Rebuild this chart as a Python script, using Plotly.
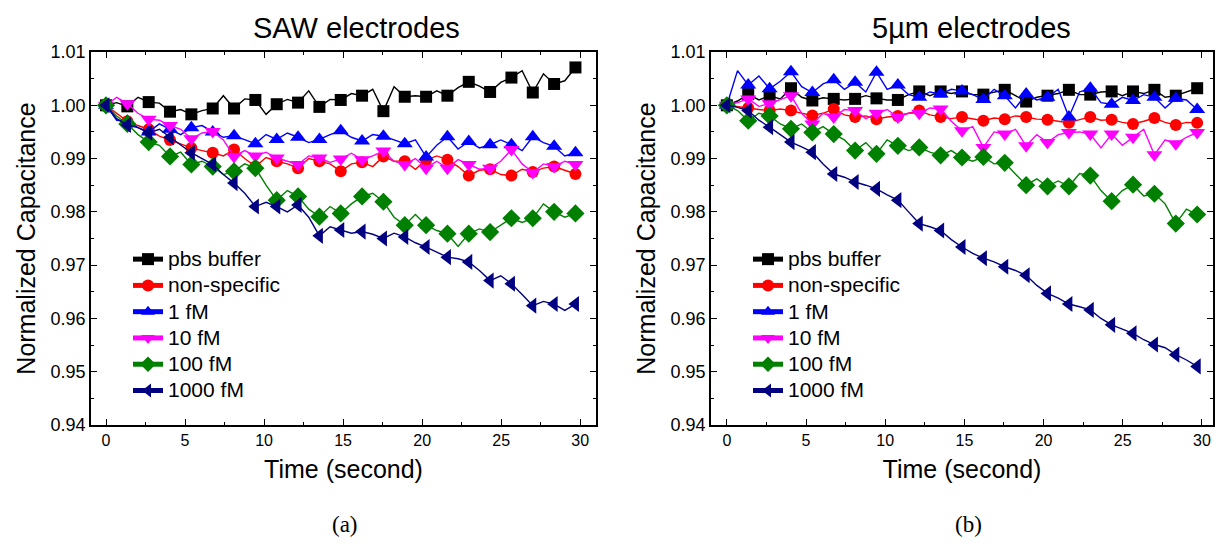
import plotly.graph_objects as go

# time base (s): samples every 0.675 s, markers on every other sample
time_s = [round(i * 0.675, 3) for i in range(45)]

series_names = ["pbs buffer", "non-specific", "1 fM", "10 fM", "100 fM", "1000 fM"]

# ---- (a) SAW electrodes ----
saw_pbs = [1.0000, 1.0005, 0.9998, 1.0015, 1.0006, 1.0004, 0.9988, 0.9992, 0.9983, 0.9990,
           0.9994, 1.0018, 0.9994, 1.0012, 1.0010, 0.9983, 1.0002, 1.0011, 1.0005, 1.0027,
           0.9997, 1.0011, 1.0010, 1.0022, 1.0018, 1.0030, 0.9989, 1.0035, 1.0016, 1.0018,
           1.0016, 1.0027, 1.0018, 1.0033, 1.0044, 1.0036, 1.0025, 1.0043, 1.0052, 1.0065,
           1.0024, 1.0059, 1.0040, 1.0046, 1.0071]
saw_nonspec = [1.0000, 0.9985, 0.9970, 0.9962, 0.9955, 0.9942, 0.9935, 0.9928, 0.9920, 0.9915,
               0.9911, 0.9905, 0.9917, 0.9900, 0.9885, 0.9902, 0.9895, 0.9890, 0.9882, 0.9900,
               0.9895, 0.9890, 0.9876, 0.9890, 0.9893, 0.9885, 0.9904, 0.9895, 0.9895, 0.9880,
               0.9897, 0.9905, 0.9898, 0.9885, 0.9868, 0.9878, 0.9880, 0.9870, 0.9868, 0.9880,
               0.9875, 0.9882, 0.9885, 0.9878, 0.9871]
saw_1fm = [1.0000, 0.9972, 0.9970, 0.9958, 0.9950, 0.9965, 0.9955, 0.9945, 0.9958, 0.9962,
           0.9950, 0.9940, 0.9943, 0.9935, 0.9928, 0.9945, 0.9936, 0.9948, 0.9940, 0.9930,
           0.9936, 0.9945, 0.9952, 0.9940, 0.9933, 0.9945, 0.9942, 0.9935, 0.9928, 0.9935,
           0.9903, 0.9925, 0.9941, 0.9918, 0.9932, 0.9920, 0.9926, 0.9935, 0.9926, 0.9915,
           0.9941, 0.9930, 0.9923, 0.9905, 0.9911]
saw_10fm = [1.0000, 1.0015, 1.0003, 0.9985, 0.9974, 0.9972, 0.9962, 0.9955, 0.9937, 0.9948,
            0.9951, 0.9935, 0.9904, 0.9915, 0.9905, 0.9912, 0.9901, 0.9895, 0.9889, 0.9905,
            0.9901, 0.9893, 0.9899, 0.9910, 0.9898, 0.9905, 0.9914, 0.9895, 0.9889, 0.9900,
            0.9882, 0.9895, 0.9882, 0.9898, 0.9889, 0.9880, 0.9882, 0.9895, 0.9917, 0.9890,
            0.9874, 0.9890, 0.9885, 0.9895, 0.9889]
saw_100fm = [1.0000, 0.9980, 0.9965, 0.9945, 0.9931, 0.9925, 0.9904, 0.9912, 0.9889, 0.9895,
             0.9885, 0.9870, 0.9876, 0.9890, 0.9882, 0.9850, 0.9822, 0.9840, 0.9829, 0.9805,
             0.9791, 0.9810, 0.9797, 0.9815, 0.9829, 0.9835, 0.9819, 0.9790, 0.9775, 0.9795,
             0.9775, 0.9765, 0.9759, 0.9735, 0.9759, 0.9768, 0.9762, 0.9775, 0.9788, 0.9780,
             0.9788, 0.9815, 0.9800, 0.9790, 0.9797]
saw_1000fm = [1.0000, 0.9975, 0.9963, 0.9958, 0.9948, 0.9955, 0.9940, 0.9925, 0.9911, 0.9900,
              0.9889, 0.9870, 0.9854, 0.9835, 0.9810, 0.9818, 0.9810, 0.9800, 0.9813, 0.9790,
              0.9755, 0.9772, 0.9766, 0.9760, 0.9763, 0.9758, 0.9750, 0.9760, 0.9753, 0.9742,
              0.9734, 0.9725, 0.9715, 0.9712, 0.9706, 0.9690, 0.9671, 0.9680, 0.9665, 0.9645,
              0.9624, 0.9632, 0.9627, 0.9615, 0.9627]

# ---- (b) 5 um electrodes ----
um5_pbs = [1.0000, 1.0008, 1.0021, 1.0010, 1.0018, 1.0012, 1.0032, 1.0015, 1.0009, 1.0014,
           1.0012, 1.0010, 1.0012, 1.0018, 1.0013, 1.0010, 1.0010, 1.0020, 1.0026, 1.0018,
           1.0026, 1.0022, 1.0026, 1.0020, 1.0020, 1.0025, 1.0029, 1.0018, 1.0007, 1.0015,
           1.0018, 1.0022, 1.0029, 1.0020, 1.0020, 1.0025, 1.0026, 1.0018, 1.0026, 1.0022,
           1.0029, 1.0015, 1.0018, 1.0025, 1.0032]
um5_nonspec = [1.0000, 0.9998, 0.9995, 0.9992, 0.9990, 0.9993, 0.9990, 0.9985, 0.9981, 0.9985,
               0.9993, 0.9982, 0.9978, 0.9980, 0.9974, 0.9978, 0.9980, 0.9985, 0.9990, 0.9982,
               0.9978, 0.9975, 0.9978, 0.9974, 0.9971, 0.9976, 0.9974, 0.9980, 0.9978, 0.9974,
               0.9973, 0.9970, 0.9967, 0.9973, 0.9978, 0.9972, 0.9973, 0.9968, 0.9965, 0.9970,
               0.9976, 0.9968, 0.9963, 0.9968, 0.9967]
um5_1fm = [1.0000, 1.0065, 1.0038, 1.0055, 1.0031, 1.0045, 1.0063, 1.0035, 1.0024, 1.0040,
           1.0048, 1.0030, 1.0043, 1.0025, 1.0062, 1.0030, 1.0038, 1.0020, 1.0015, 1.0025,
           1.0021, 1.0030, 1.0027, 1.0020, 1.0011, 1.0030, 1.0018, 0.9995, 1.0021, 1.0010,
           1.0015, 1.0030, 0.9978, 1.0025, 1.0032, 1.0005, 1.0002, 1.0015, 1.0009, 1.0020,
           1.0015, 0.9995, 1.0013, 1.0010, 0.9992]
um5_10fm = [1.0000, 1.0005, 1.0012, 0.9998, 1.0003, 1.0010, 1.0018, 0.9985, 0.9965, 0.9985,
            0.9978, 0.9992, 0.9990, 0.9975, 0.9985, 0.9992, 0.9978, 0.9985, 0.9985, 0.9995,
            0.9993, 0.9970, 0.9952, 0.9960, 0.9921, 0.9950, 0.9946, 0.9955, 0.9924, 0.9945,
            0.9930, 0.9945, 0.9949, 0.9950, 0.9946, 0.9920, 0.9946, 0.9925, 0.9940, 0.9955,
            0.9907, 0.9935, 0.9928, 0.9940, 0.9949]
um5_100fm = [1.0000, 0.9990, 0.9971, 0.9985, 0.9980, 0.9965, 0.9956, 0.9965, 0.9949, 0.9960,
             0.9946, 0.9935, 0.9915, 0.9930, 0.9909, 0.9935, 0.9924, 0.9915, 0.9921, 0.9912,
             0.9906, 0.9915, 0.9902, 0.9895, 0.9903, 0.9890, 0.9892, 0.9870, 0.9850, 0.9862,
             0.9848, 0.9858, 0.9848, 0.9872, 0.9868, 0.9840, 0.9820, 0.9840, 0.9851, 0.9830,
             0.9834, 0.9815, 0.9778, 0.9805, 0.9795]
um5_1000fm = [1.0000, 0.9996, 0.9990, 0.9972, 0.9959, 0.9945, 0.9931, 0.9922, 0.9912, 0.9890,
              0.9871, 0.9865, 0.9856, 0.9850, 0.9843, 0.9832, 0.9822, 0.9800, 0.9778, 0.9772,
              0.9765, 0.9748, 0.9734, 0.9722, 0.9713, 0.9706, 0.9697, 0.9690, 0.9681, 0.9662,
              0.9647, 0.9638, 0.9627, 0.9622, 0.9616, 0.9600, 0.9588, 0.9580, 0.9572, 0.9560,
              0.9551, 0.9545, 0.9532, 0.9522, 0.9510]

y_ticks = [0.94, 0.95, 0.96, 0.97, 0.98, 0.99, 1.00, 1.01]
x_ticks = [0, 5, 10, 15, 20, 25, 30]

colors = ["#000000", "#FF0000", "#0000FF", "#FF00FF", "#008000", "#000080"]
symbols = ["square", "circle", "triangle-up", "triangle-down", "diamond", "triangle-left"]
msizes = [12, 12, 14, 14, 14, 14]

saw_sets = [saw_pbs, saw_nonspec, saw_1fm, saw_10fm, saw_100fm, saw_1000fm]
um5_sets = [um5_pbs, um5_nonspec, um5_1fm, um5_10fm, um5_100fm, um5_1000fm]

SANS = "Liberation Sans, Arial, sans-serif"
SERIF = "Liberation Serif, Times New Roman, serif"

fig = go.Figure()

def add_panel(sets, xa, ya, legend):
    for k, (name, vals) in enumerate(zip(series_names, sets)):
        sizes = [msizes[k] if i % 2 == 0 else 0 for i in range(len(vals))]
        fig.add_trace(go.Scatter(
            x=time_s, y=vals, name='<span style="font-size:21px">%s</span>' % name,
            mode="lines+markers", xaxis=xa, yaxis=ya, legend=legend,
            line=dict(color=colors[k], width=1.4),
            marker=dict(symbol=symbols[k], size=sizes, color=colors[k], opacity=1,
                        line=dict(width=0)),
        ))

add_panel(saw_sets, "x", "y", "legend")
add_panel(um5_sets, "x2", "y2", "legend2")

W, H = 1218, 547
def px2x(p): return p / W
def px2y(p): return 1 - p / H

xtickfont = dict(family=SANS, size=16, color="#000")
ytickfont = dict(family=SANS, size=18, color="#000")
titlefont = dict(family=SANS, size=25, color="#000")

axis_common = dict(showline=True, linecolor="#000", linewidth=1.6, mirror="ticks",
                   ticks="inside", ticklen=6, tickwidth=1.3, tickcolor="#000",
                   showgrid=False, zeroline=False, automargin=False)
xminor = dict(ticks="inside", ticklen=3, dtick=2.5, tick0=0, tickcolor="#000", tickwidth=1.2)
yminor = dict(ticks="inside", ticklen=3, dtick=0.005, tick0=0.94, tickcolor="#000", tickwidth=1.2)

yd = [px2y(425), px2y(52)]
legfont = dict(family=SANS, size=17.9, color="#000")
fig.update_layout(
    template="none",
    width=W, height=H, margin=dict(l=0, r=0, t=0, b=0, pad=0), autosize=False,
    paper_bgcolor="white", plot_bgcolor="white", showlegend=True,
    xaxis=dict(domain=[px2x(91), px2x(596)], range=[-0.95, 31.0], tickvals=x_ticks,
               minor=xminor, tickfont=xtickfont,
               title=dict(text="Time (second)", font=titlefont, standoff=12), anchor="y", **axis_common),
    yaxis=dict(domain=yd, range=[0.94, 1.01], tickvals=y_ticks, tickformat=".2f",
               minor=yminor, tickfont=ytickfont,
               title=dict(text="Normalized Capacitance", font=titlefont, standoff=8), anchor="x", **axis_common),
    xaxis2=dict(domain=[px2x(711), px2x(1213)], range=[-1.0, 30.7], tickvals=x_ticks,
                minor=xminor, tickfont=xtickfont,
                title=dict(text="Time (second)", font=titlefont, standoff=12), anchor="y2", **axis_common),
    yaxis2=dict(domain=yd, range=[0.94, 1.01], tickvals=y_ticks, tickformat=".2f",
                minor=yminor, tickfont=ytickfont,
                title=dict(text="Normalized Capacitance", font=titlefont, standoff=8), anchor="x2", **axis_common),
    legend=dict(x=px2x(128), y=px2y(241), xanchor="left", yanchor="top", bgcolor="rgba(0,0,0,0)",
                font=legfont, itemsizing="constant", borderwidth=0),
    legend2=dict(x=px2x(748), y=px2y(241), xanchor="left", yanchor="top", bgcolor="rgba(0,0,0,0)",
                 font=legfont, itemsizing="constant", borderwidth=0),
    annotations=[
        dict(text="SAW electrodes", x=px2x(357), y=px2y(28), xref="paper", yref="paper",
             xanchor="center", yanchor="middle",
             showarrow=False, font=dict(family=SANS, size=29, color="#000")),
        dict(text="5µm electrodes", x=px2x(971), y=px2y(28), xref="paper", yref="paper",
             xanchor="center", yanchor="middle",
             showarrow=False, font=dict(family=SANS, size=29, color="#000")),
        dict(text="(a)", x=px2x(345), y=px2y(524), xref="paper", yref="paper",
             xanchor="center", yanchor="middle",
             showarrow=False, font=dict(family=SERIF, size=23, color="#000")),
        dict(text="(b)", x=px2x(968), y=px2y(524), xref="paper", yref="paper",
             xanchor="center", yanchor="middle",
             showarrow=False, font=dict(family=SERIF, size=23, color="#000")),
    ],
)

fig.write_html("out.html", config={"displayModeBar": False},
               post_script="document.body.style.margin='0';document.body.style.overflow='hidden';")
